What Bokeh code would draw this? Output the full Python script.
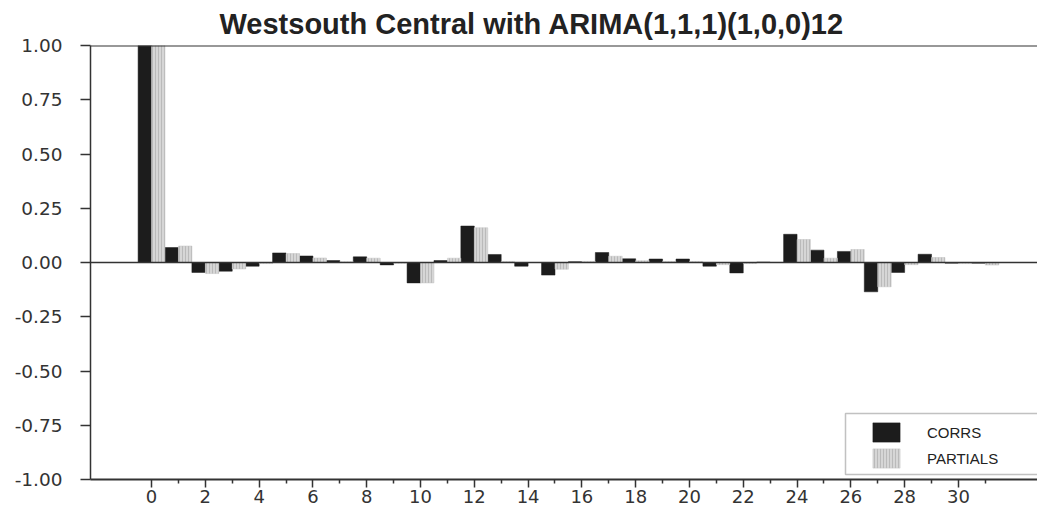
from bokeh.plotting import figure
from bokeh.models import (ColumnDataSource, FixedTicker, Span, Legend, LegendItem,
                          BoxAnnotation, Title, NumeralTickFormatter)
from bokeh.embed import file_html
from bokeh.resources import INLINE

# Autocorrelation / partial autocorrelation of residuals by lag
lags = list(range(32))
corrs = [1.00, 0.069, -0.046, -0.040, -0.017, 0.044, 0.030, 0.009, 0.026, -0.011,
         -0.094, 0.009, 0.168, 0.037, -0.017, -0.058, 0.004, 0.046, 0.017, 0.016,
         0.016, -0.017, -0.048, 0.002, 0.130, 0.057, 0.051, -0.135, -0.046, 0.038,
         -0.003, -0.003]
partials = [1.00, 0.076, -0.051, -0.030, -0.005, 0.041, 0.021, 0.003, 0.020, -0.003,
            -0.094, 0.020, 0.160, 0.005, 0.000, -0.031, 0.005, 0.029, 0.008, 0.005,
            0.005, -0.010, -0.005, 0.001, 0.106, 0.020, 0.060, -0.112, -0.010, 0.023,
            -0.005, -0.012]
x_ticks = list(range(0, 31, 2))
x_minor = list(range(1, 32, 2))
y_ticks = [-1.0, -0.75, -0.5, -0.25, 0.0, 0.25, 0.5, 0.75, 1.0]

title_text = "Westsouth Central with ARIMA(1,1,1)(1,0,0)12"
AXIS = "#333333"
TICK_FONT = "DejaVu Sans"

src = ColumnDataSource(dict(
    lag=lags,
    corr_x=[v - 0.25 for v in lags],
    part_x=[v + 0.25 for v in lags],
    corr=corrs,
    part=partials,
))

p = figure(width=1037, height=510, x_range=(-2.27, 32.94), y_range=(-1.0, 1.0),
           output_backend="svg", toolbar_location=None, title=None,
           min_border_left=90, min_border_right=0, min_border_top=45,
           min_border_bottom=31)
p.background_fill_color = "white"
p.border_fill_color = "white"
p.outline_line_color = None
p.grid.visible = False

p.add_layout(Title(text=title_text, align="left", offset=129,
                   text_font="Liberation Sans", text_font_size="29px",
                   vertical_align="bottom",
                   text_font_style="bold", text_color="#222222", standoff=11),
             "above")

r_corr = p.vbar(x="corr_x", top="corr", bottom=0, width=0.5, source=src,
                fill_color="#1c1c1c", line_color="#1c1c1c", line_width=0.5)
r_part = p.vbar(x="part_x", top="part", bottom=0, width=0.5, source=src,
                fill_color="#d6d6d6", line_color="#c4c4c4", line_width=0.5,
                hatch_pattern="vertical_line", hatch_color="#bababa",
                hatch_scale=3, hatch_weight=1)

# zero line and top frame line
p.add_layout(Span(location=0, dimension="width", line_color=AXIS, line_width=1.5))
p.add_layout(Span(location=1.0, dimension="width", line_color=AXIS, line_width=2))

xa = p.xaxis[0]
xa.ticker = FixedTicker(ticks=x_ticks, minor_ticks=x_minor)
xa.axis_line_color = AXIS
xa.axis_line_width = 2
xa.major_tick_line_color = AXIS
xa.major_tick_line_width = 1.5
xa.major_tick_out = 8
xa.major_tick_in = 0
xa.minor_tick_line_color = AXIS
xa.minor_tick_line_width = 1.5
xa.minor_tick_out = 4
xa.minor_tick_in = 0
xa.major_label_standoff = 2
xa.major_label_text_font = TICK_FONT
xa.major_label_text_font_size = "18px"
xa.major_label_text_color = AXIS

ya = p.yaxis[0]
ya.ticker = FixedTicker(ticks=y_ticks, minor_ticks=[])
ya.formatter = NumeralTickFormatter(format="0.00")
ya.axis_line_color = AXIS
ya.axis_line_width = 1.5
ya.major_tick_line_color = AXIS
ya.major_tick_line_width = 1.5
ya.major_tick_out = 10
ya.major_tick_in = 0
ya.minor_tick_line_color = None
ya.major_label_standoff = 18
ya.major_label_text_font = TICK_FONT
ya.major_label_text_font_size = "18.5px"
ya.major_label_text_color = AXIS

# legend frame
p.add_layout(BoxAnnotation(left=845, right=1060, top=413, bottom=474,
                           left_units="canvas", right_units="canvas",
                           top_units="canvas", bottom_units="canvas",
                           fill_color="white", fill_alpha=1.0,
                           line_color=AXIS, line_width=1.5))

legend = Legend(items=[LegendItem(label="CORRS", renderers=[r_corr]),
                       LegendItem(label="PARTIALS", renderers=[r_part])],
                location=(779, 9), orientation="vertical",
                glyph_width=34, glyph_height=24, label_height=24,
                label_standoff=24, spacing=2, padding=9, margin=0,
                border_line_color=None, background_fill_alpha=0,
                label_text_font="Liberation Sans", label_text_font_size="15px",
                label_text_color="#222222")
p.add_layout(legend, "center")

open("out.html", "w").write(file_html(p, INLINE))
